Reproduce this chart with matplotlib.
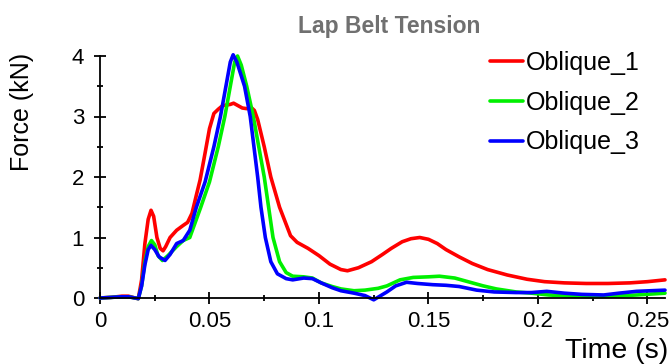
import matplotlib.pyplot as plt
from matplotlib.ticker import MultipleLocator

plt.rcParams['font.family'] = ['Liberation Sans', 'DejaVu Sans']

# Oblique_1 (red)
t1 = [0, 0.005, 0.01, 0.013, 0.016, 0.0175, 0.019, 0.0205, 0.022, 0.0233, 0.0245, 0.026,
      0.0275, 0.0288, 0.030, 0.032, 0.035, 0.038, 0.040, 0.042, 0.044, 0.0457, 0.048, 0.050,
      0.052, 0.054, 0.056, 0.0595, 0.061, 0.063, 0.065, 0.067, 0.069, 0.0705, 0.072, 0.075,
      0.078, 0.082, 0.087, 0.090, 0.095, 0.100, 0.105, 0.110, 0.113, 0.118, 0.124, 0.129, 0.133,
      0.138, 0.142, 0.146, 0.150, 0.154, 0.158, 0.164, 0.170, 0.177, 0.186, 0.195, 0.203,
      0.212, 0.222, 0.232, 0.242, 0.250, 0.258]
f1 = [0, 0.01, 0.03, 0.03, 0.0, -0.01, 0.3, 0.9, 1.3, 1.45, 1.35, 1.0,
      0.82, 0.78, 0.85, 1.0, 1.12, 1.2, 1.25, 1.4, 1.7, 1.95, 2.4, 2.8,
      3.05, 3.12, 3.18, 3.2, 3.22, 3.18, 3.14, 3.13, 3.15, 3.1, 2.95, 2.5,
      2.0, 1.5, 1.03, 0.92, 0.82, 0.7, 0.56, 0.47, 0.45, 0.5, 0.6, 0.72, 0.82,
      0.93, 0.98, 1.0, 0.97, 0.9, 0.8, 0.68, 0.57, 0.47, 0.38, 0.31, 0.27,
      0.25, 0.24, 0.24, 0.25, 0.27, 0.3]

# Oblique_2 (green)
t2 = [0, 0.005, 0.01, 0.013, 0.016, 0.0175, 0.019, 0.0205, 0.022, 0.0235, 0.025, 0.0265,
      0.0285, 0.031, 0.035, 0.038, 0.041, 0.044, 0.046, 0.050, 0.054, 0.057, 0.0595, 0.0615,
      0.0628, 0.0645, 0.067, 0.070, 0.075, 0.077, 0.079, 0.082, 0.085, 0.088, 0.093, 0.097,
      0.101, 0.106, 0.110, 0.116, 0.121, 0.127, 0.131, 0.137, 0.143, 0.150, 0.155, 0.162,
      0.168, 0.175, 0.181, 0.190, 0.197, 0.205, 0.215, 0.225, 0.235, 0.245, 0.258]
f2 = [0, 0.01, 0.02, 0.02, 0.0, -0.01, 0.2, 0.6, 0.85, 0.95, 0.88, 0.7,
      0.62, 0.7, 0.85, 0.95, 1.0, 1.3, 1.5, 1.92, 2.5, 3.0, 3.5, 3.9,
      4.0, 3.85, 3.5, 3.0, 2.0, 1.5, 1.0, 0.6, 0.42, 0.36, 0.35, 0.33,
      0.25, 0.19, 0.15, 0.12, 0.13, 0.16, 0.2, 0.3, 0.34, 0.35, 0.36, 0.33,
      0.27, 0.2, 0.15, 0.1, 0.08, 0.05, 0.03, 0.02, 0.03, 0.05, 0.08]

# Oblique_3 (blue)
t3 = [0, 0.005, 0.01, 0.013, 0.016, 0.0175, 0.019, 0.0205, 0.022, 0.0233, 0.025, 0.027,
      0.0297, 0.032, 0.035, 0.038, 0.041, 0.044, 0.048, 0.052, 0.055, 0.0575, 0.0595, 0.0608,
      0.0625, 0.066, 0.0686, 0.072, 0.0735, 0.0755, 0.078, 0.081, 0.085, 0.088, 0.093, 0.097,
      0.101, 0.106, 0.110, 0.116, 0.121, 0.125, 0.131, 0.135, 0.140, 0.145, 0.152, 0.158,
      0.164, 0.172, 0.180, 0.190, 0.197, 0.204, 0.212, 0.220, 0.230, 0.237, 0.245, 0.258]
f3 = [0, 0.01, 0.02, 0.02, 0.0, -0.01, 0.2, 0.55, 0.8, 0.87, 0.8, 0.68,
      0.62, 0.72, 0.9, 0.95, 1.12, 1.5, 1.92, 2.5, 3.0, 3.5, 3.9, 4.02,
      3.9, 3.5, 3.0, 2.0, 1.5, 1.0, 0.6, 0.4, 0.32, 0.3, 0.33, 0.32,
      0.25, 0.17, 0.12, 0.08, 0.04, -0.03, 0.1, 0.2, 0.26, 0.24, 0.22, 0.21,
      0.19, 0.13, 0.1, 0.09, 0.09, 0.11, 0.08, 0.06, 0.05, 0.08, 0.11, 0.13]

labels = ['Oblique_1', 'Oblique_2', 'Oblique_3']
colors = ['#ff0000', '#00f000', '#0000ff']

fig = plt.figure(figsize=(6.7, 3.64), dpi=100)
ax = fig.add_axes([100 / 670, 1 - 298 / 364, 565 / 670, 242 / 364])

for t, f, lab, c in zip([t1, t2, t3], [f1, f2, f3], labels, colors):
    ax.plot(t, f, color=c, lw=2.6, label=lab, clip_on=False, solid_capstyle='round')

ax.set_xlim(0, 0.258)
ax.set_ylim(0, 4)
ax.spines['top'].set_visible(False)
ax.spines['right'].set_visible(False)
ax.spines['left'].set_linewidth(1.3)
ax.spines['bottom'].set_linewidth(1.3)
ax.xaxis.set_minor_locator(MultipleLocator(0.025))
ax.yaxis.set_major_locator(MultipleLocator(1))
ax.yaxis.set_minor_locator(MultipleLocator(0.5))
ax.set_xticks([0, 0.05, 0.1, 0.15, 0.2, 0.25])
ax.set_xticklabels(['0', '0.05', '0.1', '0.15', '0.2', '0.25'])
ax.tick_params(which='major', direction='inout', length=9, width=1.3, labelsize=16, pad=5)
ax.tick_params(which='minor', direction='inout', length=5, width=1.3)
ax.tick_params(axis='y', pad=7)

fig.text(389 / 670, 1 - 33 / 364, 'Lap Belt Tension', ha='center', va='baseline',
         fontsize=16.5, fontweight='bold', color='#707070')
fig.text(22.5 / 670, 1 - 112 / 364, 'Force (kN)', rotation=90, ha='center', va='center',
         fontsize=18)
fig.text(668 / 670, 1 - 358 / 364, 'Time (s)', ha='right', va='baseline', fontsize=20.5)

ax.legend(loc='upper left', bbox_to_anchor=(490 / 670, 1 - 51 / 364),
          bbox_transform=fig.transFigure, frameon=False, fontsize=18,
          handlelength=1.3, handletextpad=0.15, labelspacing=0.63, borderpad=0,
          borderaxespad=0)

fig.savefig('out.png', dpi=100)
